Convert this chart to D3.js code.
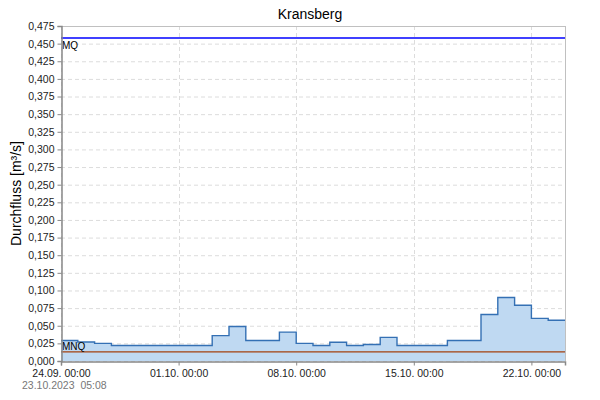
<!DOCTYPE html>
<html><head><meta charset="utf-8">
<script src="https://cdn.jsdelivr.net/npm/d3@7"></script>
<style>body{margin:0;background:#fff;} svg{display:block;font-family:"Liberation Sans",Arial,sans-serif;} text{white-space:pre;}</style>
</head><body>
<script>
const title = "Kransberg";
const yLabel = "Durchfluss [m³/s]";
const stamp = "23.10.2023  05:08";
const days = ["2023-09-24","2023-09-25","2023-09-26","2023-09-27","2023-09-28","2023-09-29","2023-09-30",
  "2023-10-01","2023-10-02","2023-10-03","2023-10-04","2023-10-05","2023-10-06","2023-10-07",
  "2023-10-08","2023-10-09","2023-10-10","2023-10-11","2023-10-12","2023-10-13","2023-10-14",
  "2023-10-15","2023-10-16","2023-10-17","2023-10-18","2023-10-19","2023-10-20","2023-10-21",
  "2023-10-22","2023-10-23"];
const flow = [0.029,0.027,0.025,0.022,0.022,0.022,0.022,
  0.022,0.022,0.036,0.049,0.029,0.029,0.041,
  0.025,0.022,0.0265,0.022,0.0235,0.0335,0.022,
  0.022,0.022,0.029,0.029,0.066,0.090,0.079,
  0.0605,0.0577];
const endDay = "2023-10-24";
const xTicks = ["2023-09-24","2023-10-01","2023-10-08","2023-10-15","2023-10-22"];
const refNames = ["MQ","MNQ"];
const refValues = [0.458,0.013];
const refColors = ["#0000ff","#a4410e"];
const yMax = 0.475, yStep = 0.025;

const W=600,H=400, L=61, R=565, T=26, B=361;
const parse = d3.utcParse("%Y-%m-%d");
const svg = d3.select("body").append("svg").attr("width",W).attr("height",H);
const x = d3.scaleUtc().domain([parse(days[0]), parse(endDay)]).range([L,R]);
const y = d3.scaleLinear().domain([0,yMax]).range([B,T]);
const loc = d3.formatLocale({decimal:",",thousands:".",grouping:[3],currency:["","€"]});
const fmt = loc.format(".3f");
const yT = d3.range(0, yMax+yStep/2, yStep).map(v=>+v.toFixed(3));
const xT = xTicks.map(parse);

// grid
const g = svg.append("g");
g.selectAll(".hg").data(yT).join("line")
  .attr("x1",L).attr("x2",R).attr("y1",d=>y(d)+0.5).attr("y2",d=>y(d)+0.5)
  .attr("stroke","#dcdcdc").attr("stroke-dasharray","4,3");
g.selectAll(".vg").data(xT).join("line")
  .attr("y1",T).attr("y2",B).attr("x1",d=>Math.round(x(d))+0.5).attr("x2",d=>Math.round(x(d))+0.5)
  .attr("stroke","#dcdcdc").attr("stroke-dasharray","4,3");

// data
const pts = days.map((d,i)=>({t:parse(d),v:flow[i]}));
pts.push({t:parse(endDay), v:flow[flow.length-1]});
svg.append("path").datum(pts)
  .attr("d", d3.area().curve(d3.curveStepAfter).x(d=>x(d.t)).y0(y(0)).y1(d=>y(d.v)))
  .attr("fill","#bfd9f2");
svg.append("path").datum(pts)
  .attr("d", d3.line().curve(d3.curveStepAfter).x(d=>x(d.t)).y(d=>y(d.v)))
  .attr("fill","none").attr("stroke","#3470b4").attr("stroke-width",1.4);

// reference lines
refValues.forEach((v,i)=>{
  svg.append("line").attr("x1",L).attr("x2",R).attr("y1",y(v)).attr("y2",y(v))
    .attr("stroke",refColors[i]).attr("stroke-width",1.3);
});
svg.append("text").attr("x",L+1).attr("y",y(refValues[0])+11).attr("font-size",10).attr("fill","#000").text(refNames[0]);
svg.append("text").attr("x",L+1).attr("y",y(refValues[1])-2).attr("font-size",10).attr("fill","#000").text(refNames[1]);

// frame
svg.append("line").attr("x1",L).attr("x2",R).attr("y1",T+0.5).attr("y2",T+0.5).attr("stroke","#c0c0c0");
svg.append("line").attr("x1",R+0.5).attr("x2",R+0.5).attr("y1",T).attr("y2",B).attr("stroke","#c0c0c0");

// axes
const ya = svg.append("g").attr("transform",`translate(${L+0.5},0)`)
  .call(d3.axisLeft(y).tickValues(yT).tickFormat(fmt).tickSize(4).tickPadding(3));
const xa = svg.append("g").attr("transform",`translate(0,${B+0.5})`)
  .call(d3.axisBottom(x).tickValues(xT).tickFormat(d3.utcFormat("%d.%m. %H:%M")).tickSize(4).tickPadding(4));
[ya,xa].forEach(a=>{
  a.select(".domain").attr("stroke","#888").attr("stroke-width",1.5);
  a.selectAll(".tick line").attr("stroke","#888");
  a.selectAll(".tick text").attr("font-size",10.5).attr("fill","#222").attr("font-family","Liberation Sans, Arial, sans-serif");
});

svg.append("text").attr("x",310).attr("y",19).attr("text-anchor","middle").attr("font-size",14).attr("fill","#000").text(title);
svg.append("text").attr("transform",`translate(21,${(T+B)/2}) rotate(-90)`).attr("text-anchor","middle")
  .attr("font-size",14).attr("fill","#000").text(yLabel);
svg.append("text").attr("x",22).attr("y",389).attr("font-size",10.5).attr("fill","#777").text(stamp);
</script>
</body></html>
